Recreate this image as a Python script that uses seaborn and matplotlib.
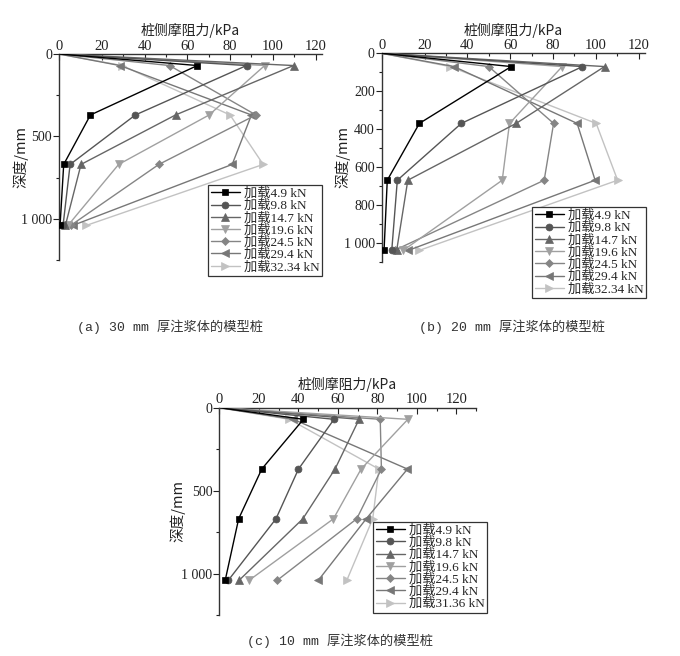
import matplotlib
matplotlib.use("Agg")
import matplotlib.pyplot as plt
import seaborn as sns
import pandas as pd
from matplotlib.ticker import MultipleLocator, FuncFormatter

sns.set_theme(style="white")
plt.rcParams['font.family'] = ['Liberation Serif', 'Noto Sans CJK SC']

# ---------------- data ----------------
depth = [0, 70, 370, 670, 1040]

loads_a = ["加载4.9 kN", "加载9.8 kN", "加载14.7 kN", "加载19.6 kN",
           "加载24.5 kN", "加载29.4 kN", "加载32.34 kN"]
loads_b = loads_a
loads_c = ["加载4.9 kN", "加载9.8 kN", "加载14.7 kN", "加载19.6 kN",
           "加载24.5 kN", "加载29.4 kN", "加载31.36 kN"]

# (a) 30 mm
a_49 = [0, 64.7, 14.7, 2.2, 0.5]
a_98 = [0, 87.7, 35.7, 5.2, 1.9]
a_147 = [0, 109.7, 54.5, 10.3, 3.0]
a_196 = [0, 96.2, 70.2, 27.9, 4.2]
a_245 = [0, 51.7, 92.1, 46.7, 5.5]
a_294 = [0, 28.5, 90.0, 81.0, 6.5]
a_3234 = [0, 29.5, 80.0, 95.5, 12.8]

# (b) 20 mm
b_49 = [0, 60.5, 17.6, 2.6, 1.1]
b_98 = [0, 93.8, 37.2, 7.3, 4.7]
b_147 = [0, 104.1, 62.8, 12.2, 7.0]
b_196 = [0, 84.3, 59.7, 56.3, 10.1]
b_245 = [0, 50.0, 80.3, 75.9, 6.0]
b_294 = [0, 33.8, 91.3, 99.7, 12.5]
b_3234 = [0, 31.9, 100.2, 110.2, 17.6]

# (c) 10 mm
c_49 = [0, 42.6, 21.5, 9.8, 3.0]
c_98 = [0, 58.1, 40.1, 28.7, 4.6]
c_147 = [0, 70.8, 58.6, 42.3, 10.1]
c_196 = [0, 95.5, 71.8, 57.8, 15.2]
c_245 = [0, 81.5, 82.1, 69.6, 29.4]
c_294 = [0, 37.5, 95.3, 74.4, 50.2]
c_3136 = [0, 35.5, 80.8, 77.7, 64.6]

captions = ["(a) 30 mm 厚注浆体的模型桩",
            "(b) 20 mm 厚注浆体的模型桩",
            "(c) 10 mm 厚注浆体的模型桩"]
xlabel = "桩侧摩阻力/kPa"
ylabel = "深度/mm"

# ---------------- style ----------------
colors = ["#000000", "#555555", "#666666", "#a0a0a0", "#858585", "#777777", "#c2c2c2"]
markers = ["s", "o", "^", "v", "D", "<", ">"]
msizes = [4.5, 5, 5.5, 5.5, 4, 5.5, 5.5]

W, H = 680, 656
fig = plt.figure(figsize=(W / 100, H / 100), dpi=100)


def frac(l, t, r, b):
    return [l / W, 1 - b / H, (r - l) / W, (b - t) / H]


panels = [
    dict(rect=frac(59, 54, 322, 260), series=[a_49, a_98, a_147, a_196, a_245, a_294, a_3234],
         labels=loads_a, xmax=123, ymax=1250, ymaj=500, ymin=250,
         leg=(1.0, 0.364), cap=(170, 327), ylx=-0.118),
    dict(rect=frac(381.7, 53.3, 645, 261.7), series=[b_49, b_98, b_147, b_196, b_245, b_294, b_3234],
         labels=loads_b, xmax=123, ymax=1100, ymaj=200, ymin=100,
         leg=(1.004, 0.262), cap=(512, 327), ylx=-0.12),
    dict(rect=frac(219.3, 407.7, 476, 615), series=[c_49, c_98, c_147, c_196, c_245, c_294, c_3136],
         labels=loads_c, xmax=130, ymax=1250, ymaj=500, ymin=250,
         leg=(1.043, 0.449), cap=(340, 641), ylx=-0.134),
]

cjk = ['Noto Sans CJK SC', 'DejaVu Sans']

for i, p in enumerate(panels):
    ax = fig.add_axes(p["rect"])
    for k, (vals, lab) in enumerate(zip(p["series"], p["labels"])):
        df = pd.DataFrame({"f": vals, "d": depth})
        sns.lineplot(data=df, x="f", y="d", sort=False, estimator=None, ax=ax,
                     color=colors[k], marker=markers[k], markersize=msizes[k],
                     markeredgewidth=0.5, markeredgecolor=colors[k],
                     markevery=[1, 2, 3, 4], linewidth=1.0, label=lab,
                     zorder=3 + (7 - k) * 0.1)
    ax.set_xlim(0, p["xmax"])
    ax.set_ylim(p["ymax"], 0)
    ax.xaxis.set_ticks_position("top")
    ax.xaxis.set_label_position("top")
    ax.xaxis.set_major_locator(MultipleLocator(20))
    ax.xaxis.set_minor_locator(MultipleLocator(10))
    ax.yaxis.set_major_locator(MultipleLocator(p["ymaj"]))
    ax.yaxis.set_minor_locator(MultipleLocator(p["ymin"]))
    ax.yaxis.set_major_formatter(FuncFormatter(
        lambda v, pos: "1 000" if abs(v - 1000) < 1e-6 else f"{int(round(v))}"))
    ax.tick_params(axis="x", which="both", direction="in", top=True, bottom=False,
                   labelsize=10.5, pad=1, colors="#222222")
    ax.tick_params(axis="x", which="major", length=4, width=0.8)
    ax.tick_params(axis="x", which="minor", length=2.5, width=0.8)
    ax.tick_params(axis="y", which="both", direction="out", left=True,
                   labelsize=10, pad=1, colors="#222222")
    ax.tick_params(axis="y", which="major", length=4, width=0.8)
    ax.tick_params(axis="y", which="minor", length=2.5, width=0.8)
    for s in ["right", "bottom"]:
        ax.spines[s].set_visible(False)
    for s in ["top", "left"]:
        ax.spines[s].set_color("#333333")
        ax.spines[s].set_linewidth(1.0)
    ax.set_xlabel(xlabel, family=cjk, fontsize=10, labelpad=3, color="#222222")
    ax.set_ylabel(ylabel, family=cjk, fontsize=10.5, color="#222222")
    ax.yaxis.set_label_coords(p["ylx"], 0.5)
    ax.grid(False)
    leg = ax.legend(loc="upper right", bbox_to_anchor=p["leg"], frameon=True,
                    fancybox=False, edgecolor="#333333", framealpha=1,
                    prop={"family": ['Liberation Serif', 'Noto Sans CJK SC'], "size": 9.5},
                    labelspacing=0.0, handlelength=2.2, handletextpad=0.3,
                    borderpad=0.2, borderaxespad=0)
    leg.get_frame().set_linewidth(0.9)
    leg.set_zorder(10)
    fig.text(p["cap"][0] / W, 1 - p["cap"][1] / H, captions[i],
             family=['Liberation Mono', 'Noto Sans CJK SC'], fontsize=9.5,
             color="#333333", ha="center", va="center")

fig.savefig("out.png", dpi=100)
